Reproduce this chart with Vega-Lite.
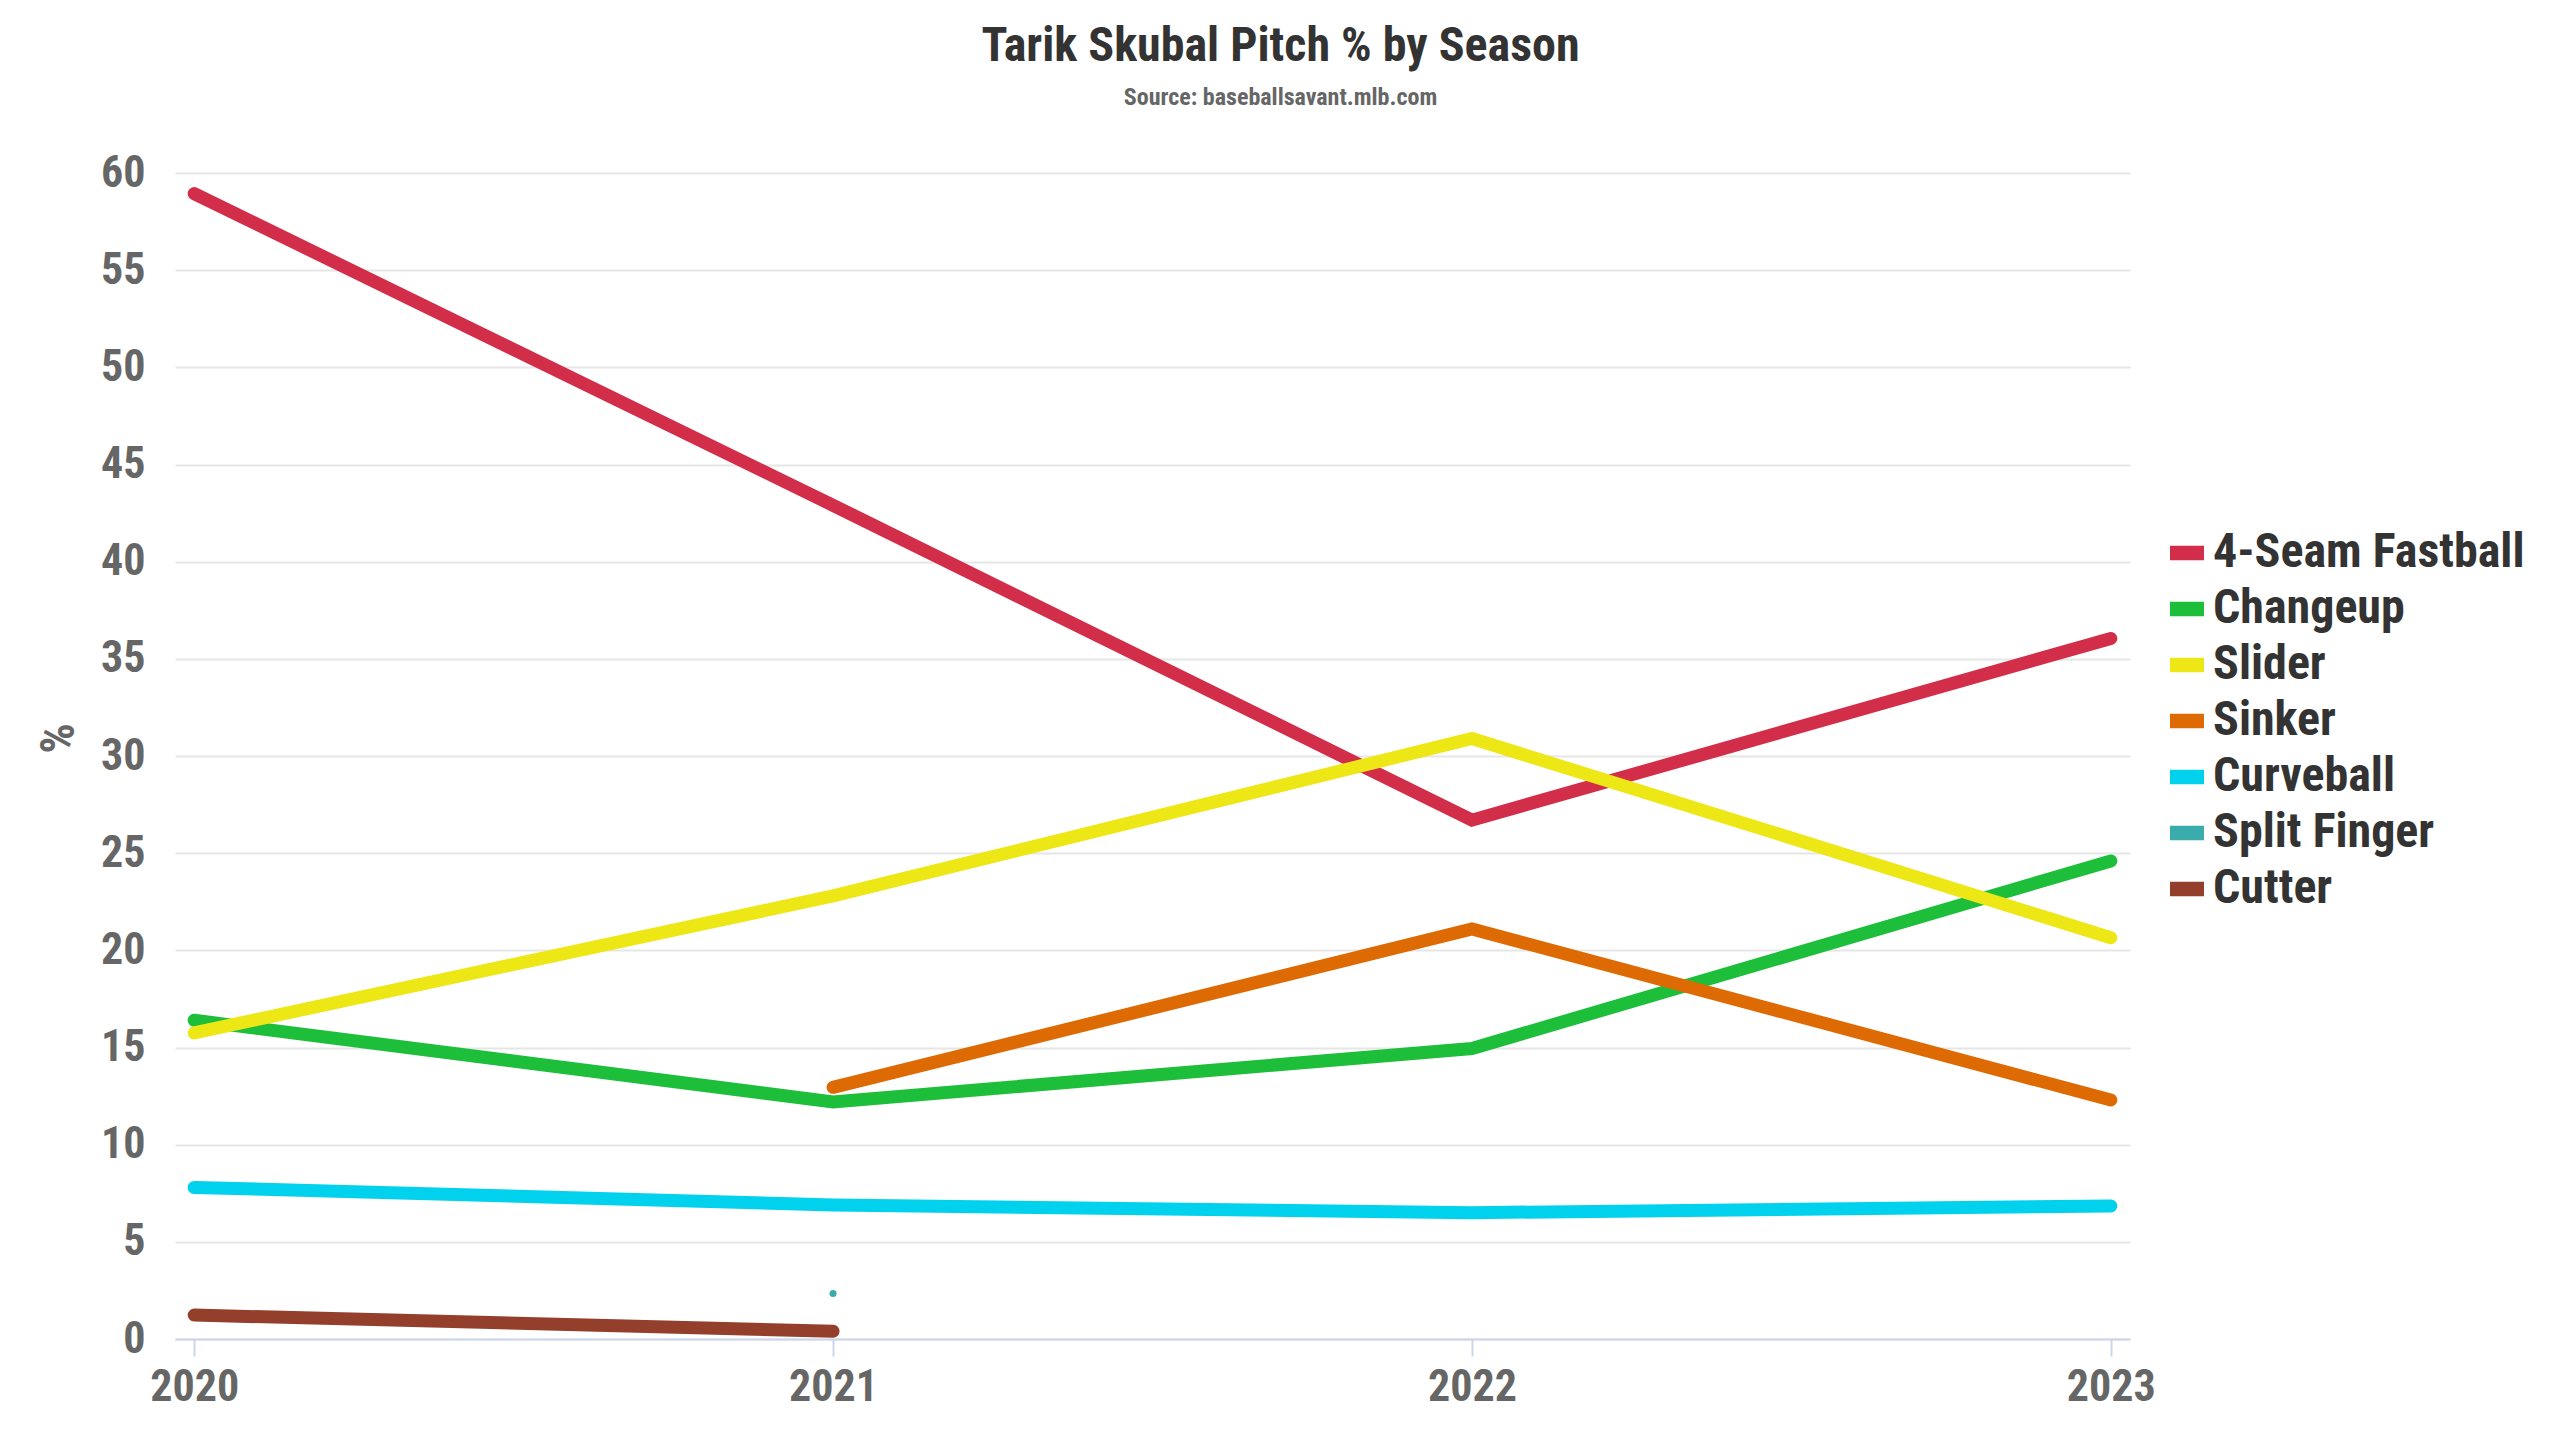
{
  "$schema": "https://vega.github.io/schema/vega-lite/v6.json",
  "autosize": {"type": "none"},
  "padding": {"left": 175, "top": 173, "right": 430, "bottom": 101},
  "width": 1955,
  "height": 1166,
  "background": "#ffffff",
  "title": {
    "text": "Tarik Skubal Pitch % by Season",
    "subtitle": "Source: baseballsavant.mlb.com",
    "anchor": "middle",
    "dx": 128,
    "offset": 41,
    "font": "Roboto Condensed, Liberation Sans Narrow, DejaVu Sans Condensed, Roboto, sans-serif",
    "fontSize": 48,
    "fontWeight": "bold",
    "color": "#333333",
    "subtitleFont": "Roboto Condensed, Liberation Sans Narrow, DejaVu Sans Condensed, Roboto, sans-serif",
    "subtitleFontSize": 24,
    "subtitleFontWeight": "bold",
    "subtitleColor": "#666666",
    "subtitlePadding": 15
  },
  "config": {
    "view": {"stroke": null},
    "font": "Roboto Condensed, Liberation Sans Narrow, DejaVu Sans Condensed, Roboto, sans-serif"
  },
  "data": {
    "values": [
      {"pitch": "4-Seam Fastball", "season": "2020", "pct": 58.94},
      {"pitch": "4-Seam Fastball", "season": "2021", "pct": 42.9},
      {"pitch": "4-Seam Fastball", "season": "2022", "pct": 26.7},
      {"pitch": "4-Seam Fastball", "season": "2023", "pct": 36.05},
      {"pitch": "Changeup", "season": "2020", "pct": 16.4},
      {"pitch": "Changeup", "season": "2021", "pct": 12.2},
      {"pitch": "Changeup", "season": "2022", "pct": 14.95},
      {"pitch": "Changeup", "season": "2023", "pct": 24.6},
      {"pitch": "Slider", "season": "2020", "pct": 15.75},
      {"pitch": "Slider", "season": "2021", "pct": 22.8},
      {"pitch": "Slider", "season": "2022", "pct": 30.9},
      {"pitch": "Slider", "season": "2023", "pct": 20.65},
      {"pitch": "Sinker", "season": "2021", "pct": 12.95},
      {"pitch": "Sinker", "season": "2022", "pct": 21.1},
      {"pitch": "Sinker", "season": "2023", "pct": 12.3},
      {"pitch": "Curveball", "season": "2020", "pct": 7.8},
      {"pitch": "Curveball", "season": "2021", "pct": 6.9},
      {"pitch": "Curveball", "season": "2022", "pct": 6.5},
      {"pitch": "Curveball", "season": "2023", "pct": 6.85},
      {"pitch": "Split Finger", "season": "2021", "pct": 2.34},
      {"pitch": "Cutter", "season": "2020", "pct": 1.23},
      {"pitch": "Cutter", "season": "2021", "pct": 0.4}
    ]
  },
  "encoding": {
    "x": {
      "field": "season",
      "type": "ordinal",
      "scale": {"type": "point", "padding": 0.03},
      "axis": {
        "title": null,
        "labelAngle": 0,
        "labelFontSize": 44,
        "labelFontWeight": "bold",
        "labelColor": "#666666",
        "labelPadding": 9,
        "domainColor": "#ccd6eb",
        "domainWidth": 2,
        "tickColor": "#ccd6eb",
        "tickWidth": 2,
        "tickSize": 17,
        "grid": false
      }
    },
    "y": {
      "field": "pct",
      "type": "quantitative",
      "scale": {"domain": [0, 60], "nice": false},
      "axis": {
        "title": "%",
        "titleFontSize": 48,
        "titleFontWeight": "bold",
        "titleColor": "#666666",
        "titleAngle": 270,
        "titleX": -116,
        "titleY": 565,
        "titleAlign": "center",
        "titleBaseline": "middle",
        "values": [0, 5, 10, 15, 20, 25, 30, 35, 40, 45, 50, 55, 60],
        "labelFontSize": 44,
        "labelFontWeight": "bold",
        "labelColor": "#666666",
        "labelPadding": 30,
        "ticks": false,
        "domain": false,
        "grid": true,
        "gridColor": "#e6e6e6",
        "gridWidth": 2
      }
    },
    "color": {
      "field": "pitch",
      "type": "nominal",
      "sort": ["4-Seam Fastball", "Changeup", "Slider", "Sinker", "Curveball", "Split Finger", "Cutter"],
      "scale": {
        "domain": ["4-Seam Fastball", "Changeup", "Slider", "Sinker", "Curveball", "Split Finger", "Cutter"],
        "range": ["#D22D49", "#1DBE3A", "#EEE716", "#DE6A04", "#00D1ED", "#3BACAC", "#933F2C"]
      },
      "legend": {
        "title": null,
        "orient": "none",
        "legendX": 1988,
        "legendY": 356,
        "symbolType": "M-1,-0.42H1V0.42H-1Z",
        "symbolSize": 1156,
        "symbolStrokeWidth": 0,
        "symbolOpacity": 1,
        "labelFontSize": 48,
        "labelFontWeight": "bold",
        "labelColor": "#333333",
        "labelOffset": 2,
        "labelLimit": 600,
        "rowPadding": 8
      }
    }
  },
  "layer": [
    {
      "transform": [{"filter": "datum.pitch !== 'Split Finger'"}],
      "mark": {"type": "line", "strokeWidth": 13, "strokeCap": "round", "strokeJoin": "miter"}
    },
    {
      "transform": [{"filter": "datum.pitch === 'Split Finger'"}],
      "mark": {"type": "point", "filled": true, "size": 50, "opacity": 1, "shape": "circle"}
    }
  ]
}
